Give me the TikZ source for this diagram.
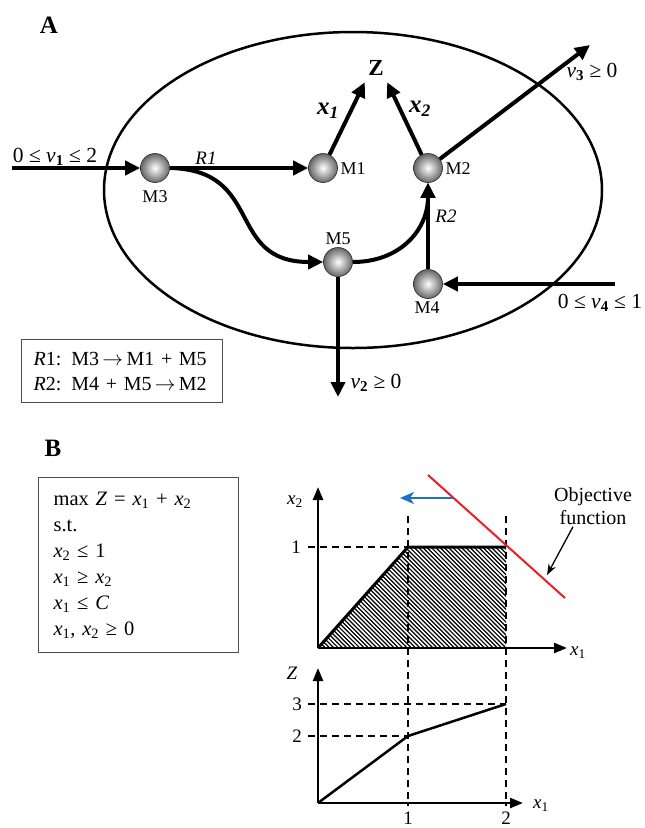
\documentclass[tikz,border=0pt]{standalone}
\usepackage{fontspec}
\setmainfont{Liberation Serif}
\usetikzlibrary{arrows.meta}
\definecolor{blueA}{RGB}{30,112,200}
\definecolor{redA}{RGB}{235,30,35}
\newcommand{\sbx}[1]{\textsubscript{#1}}
\newcommand{\rar}{\,$\rightarrow$\,}
\tikzset{
 ball/.style={circle, minimum size=29pt, inner sep=0pt, draw=black!85, line width=0.6pt, inner color=white, outer color=black!60},
 flow/.style={line width=4pt, -{Triangle[length=15pt,width=14pt]}},
 lab/.style={font=\fontsize{18}{20}\selectfont, inner sep=0pt},
 big/.style={font=\fontsize{21.5}{24}\selectfont, inner sep=0pt},
 mid/.style={font=\fontsize{19}{22}\selectfont, inner sep=0pt},
 axis/.style={line width=2.5pt, -{Triangle[length=13pt,width=10pt]}},
 dsh/.style={line width=1.5pt, dash pattern=on 7pt off 5pt},
 hatchline/.style={line width=1.2pt},
}
\begin{document}
\begin{tikzpicture}[x=1pt,y=-1pt]
\useasboundingbox[fill=white] (0,0) rectangle (645,828);

% ---------------- Part A ----------------
\node[font=\bfseries\fontsize{25}{27}\selectfont, inner sep=0pt] (labA) at (49,25) {A};
\draw[line width=2.5pt] (353,190) ellipse [x radius=249pt, y radius=158pt];

\node[ball] (M3) at (155,168) {};
\node[ball] (M1) at (323,168) {};
\node[ball] (M2) at (428,168) {};
\node[ball] (M5) at (338,262) {};
\node[ball] (M4) at (428,284) {};
\node[font=\bfseries\fontsize{23}{25}\selectfont, minimum width=22pt, minimum height=28pt, inner sep=0pt] (Z) at (376,68) {Z};

\node[lab] (lM3) at (155,197) {M3};
\node[lab] (lM1) at (353,169) {M1};
\node[lab] (lM2) at (458,169) {M2};
\node[lab] (lM5) at (338,239) {M5};
\node[lab] (lM4) at (427,308) {M4};

\coordinate (v1s) at (12,168);
\coordinate (v3e) at (590,45);
\coordinate (v2e) at (338,397);
\coordinate (v4s) at (615,284);

\draw[flow] (v1s) -- (M3.west);
\draw[flow] (M3.east) -- (M1.west);
\draw[flow] (M3.east) .. controls (265,170) and (225,262) .. (M5.west);
\draw[flow] (M1) -- (Z.south west);
\draw[flow] (M2) -- (Z.south east);
\draw[flow] (M2) -- (v3e);
\draw[flow] (M5) -- (v2e);
\draw[flow] (M5.east) .. controls (400,262) and (428,230) .. (M2.south);
\draw[flow] (M4) -- (M2);
\draw[flow] (v4s) -- (M4);

\node[big] (tv1) at (55,157) {0 ≤ \textit{v}\sbx{\textbf{1}} ≤ 2};
\node[font=\itshape\fontsize{19}{21}\selectfont, inner sep=0pt] (tR1) at (206,158) {R1};
\node[font=\itshape\fontsize{19}{21}\selectfont, inner sep=0pt] (tR2) at (446,216) {R2};
\node[font=\bfseries\itshape\fontsize{25}{27}\selectfont, inner sep=0pt] (tx1) at (328,111) {x\sbx{1}};
\node[font=\bfseries\itshape\fontsize{25}{27}\selectfont, inner sep=0pt] (tx2) at (420,109) {x\sbx{2}};
\node[big] (tv3) at (592,72) {\textit{v}\sbx{\textbf{3}} ≥ 0};
\node[big] (tv4) at (600,303) {0 ≤ \textit{v}\sbx{\textbf{4}} ≤ 1};
\node[big] (tv2) at (376,383) {\textit{v}\sbx{\textbf{2}} ≥ 0};

\node[draw=black!70, line width=1.2pt, anchor=north west, minimum width=201pt, minimum height=63pt,
      text width=177pt, inner xsep=12pt, align=left, font=\fontsize{20}{25}\selectfont] (rbox) at (21,339)
  {\textit{R}1: M3\rar M1 + M5\\\textit{R}2: M4 + M5\rar M2};

% ---------------- Part B ----------------
\node[font=\bfseries\fontsize{25}{27}\selectfont, inner sep=0pt] (labB) at (53,448) {B};

\node[draw=black!70, line width=1.2pt, anchor=north west, minimum width=200pt, minimum height=175pt,
      text width=170pt, inner xsep=15pt, align=left, font=\fontsize{20.5}{26}\selectfont] (lpbox) at (38,477)
  {max \textit{Z} = \textit{x}\sbx{1} + \textit{x}\sbx{2}\\
   s.t.\\
   \textit{x}\sbx{2} ≤ 1\\
   \textit{x}\sbx{1} ≥ \textit{x}\sbx{2}\\
   \textit{x}\sbx{1} ≤ \textit{C}\\
   \textit{x}\sbx{1}, \textit{x}\sbx{2} ≥ 0};

% graph 1
\coordinate (O1) at (318,648);
\coordinate (Y1) at (318,487);
\coordinate (X1) at (567,648);
\coordinate (P1) at (408,547);
\coordinate (P2) at (506,547);
\coordinate (P3) at (506,648);
\begin{scope}
  \clip (O1) -- (P1) -- (P2) -- (P3) -- cycle;
  \foreach \i in {196,200.3,...,515} \draw[hatchline] (\i,540) -- ++(115,115);
\end{scope}
\coordinate (d1t) at (408,516);
\coordinate (d1b) at (408,806);
\coordinate (d2t) at (506,516);
\coordinate (d2b) at (506,806);
\coordinate (h1) at (308,547);
\draw[dsh] (d1t) -- (d1b);
\draw[dsh] (d2t) -- (d2b);
\draw[dsh] (h1) -- (P1);
\draw[line width=3pt, line join=round] (O1) -- (P1) -- (P2);
\draw[axis] (O1) -- (Y1);
\draw[axis] (O1) -- (X1);

\coordinate (r1) at (428,475);
\coordinate (r2) at (565,598);
\draw[redA, line width=2pt] (r1) -- (r2);
\coordinate (bs) at (453,498);
\coordinate (be) at (400,498);
\draw[blueA, line width=2pt, -{Stealth[length=14pt,width=12pt,inset=4pt]}] (bs) -- (be);

\node[mid] (ax2) at (295,502) {\textit{x}\sbx{2}};
\node[mid] (ax1) at (578,653) {\textit{x}\sbx{1}};
\node[mid] (one) at (296,547) {1};
\node[align=center, inner sep=0pt, font=\fontsize{20}{23}\selectfont] (obj) at (593,506) {Objective\\function};
\coordinate (objtip) at (547,575);
\draw[line width=1.3pt, -{Stealth[length=11pt,width=8pt]}] ([xshift=-20pt,yshift=-2pt]obj.south) -- (objtip);

% graph 2
\coordinate (O2) at (318,803);
\coordinate (Y2) at (318,668);
\coordinate (X2) at (523,803);
\coordinate (Q1) at (408,736);
\coordinate (Q2) at (506,704);
\coordinate (h2) at (308,736);
\coordinate (h3) at (308,704);
\draw[dsh] (h2) -- (Q1);
\draw[dsh] (h3) -- (Q2);
\draw[line width=2.5pt, line join=round] (O2) -- (Q1) -- (Q2);
\draw[axis] (O2) -- (Y2);
\draw[axis] (O2) -- (X2);
\node[mid] (az) at (292,673) {\textit{Z}};
\node[mid] (t3) at (297,704) {3};
\node[mid] (t2) at (297,736) {2};
\node[mid] (ax1b) at (541,806) {\textit{x}\sbx{1}};
\node[mid] (b1) at (408,818) {1};
\node[mid] (b2) at (506,818) {2};
\end{tikzpicture}
\end{document}
